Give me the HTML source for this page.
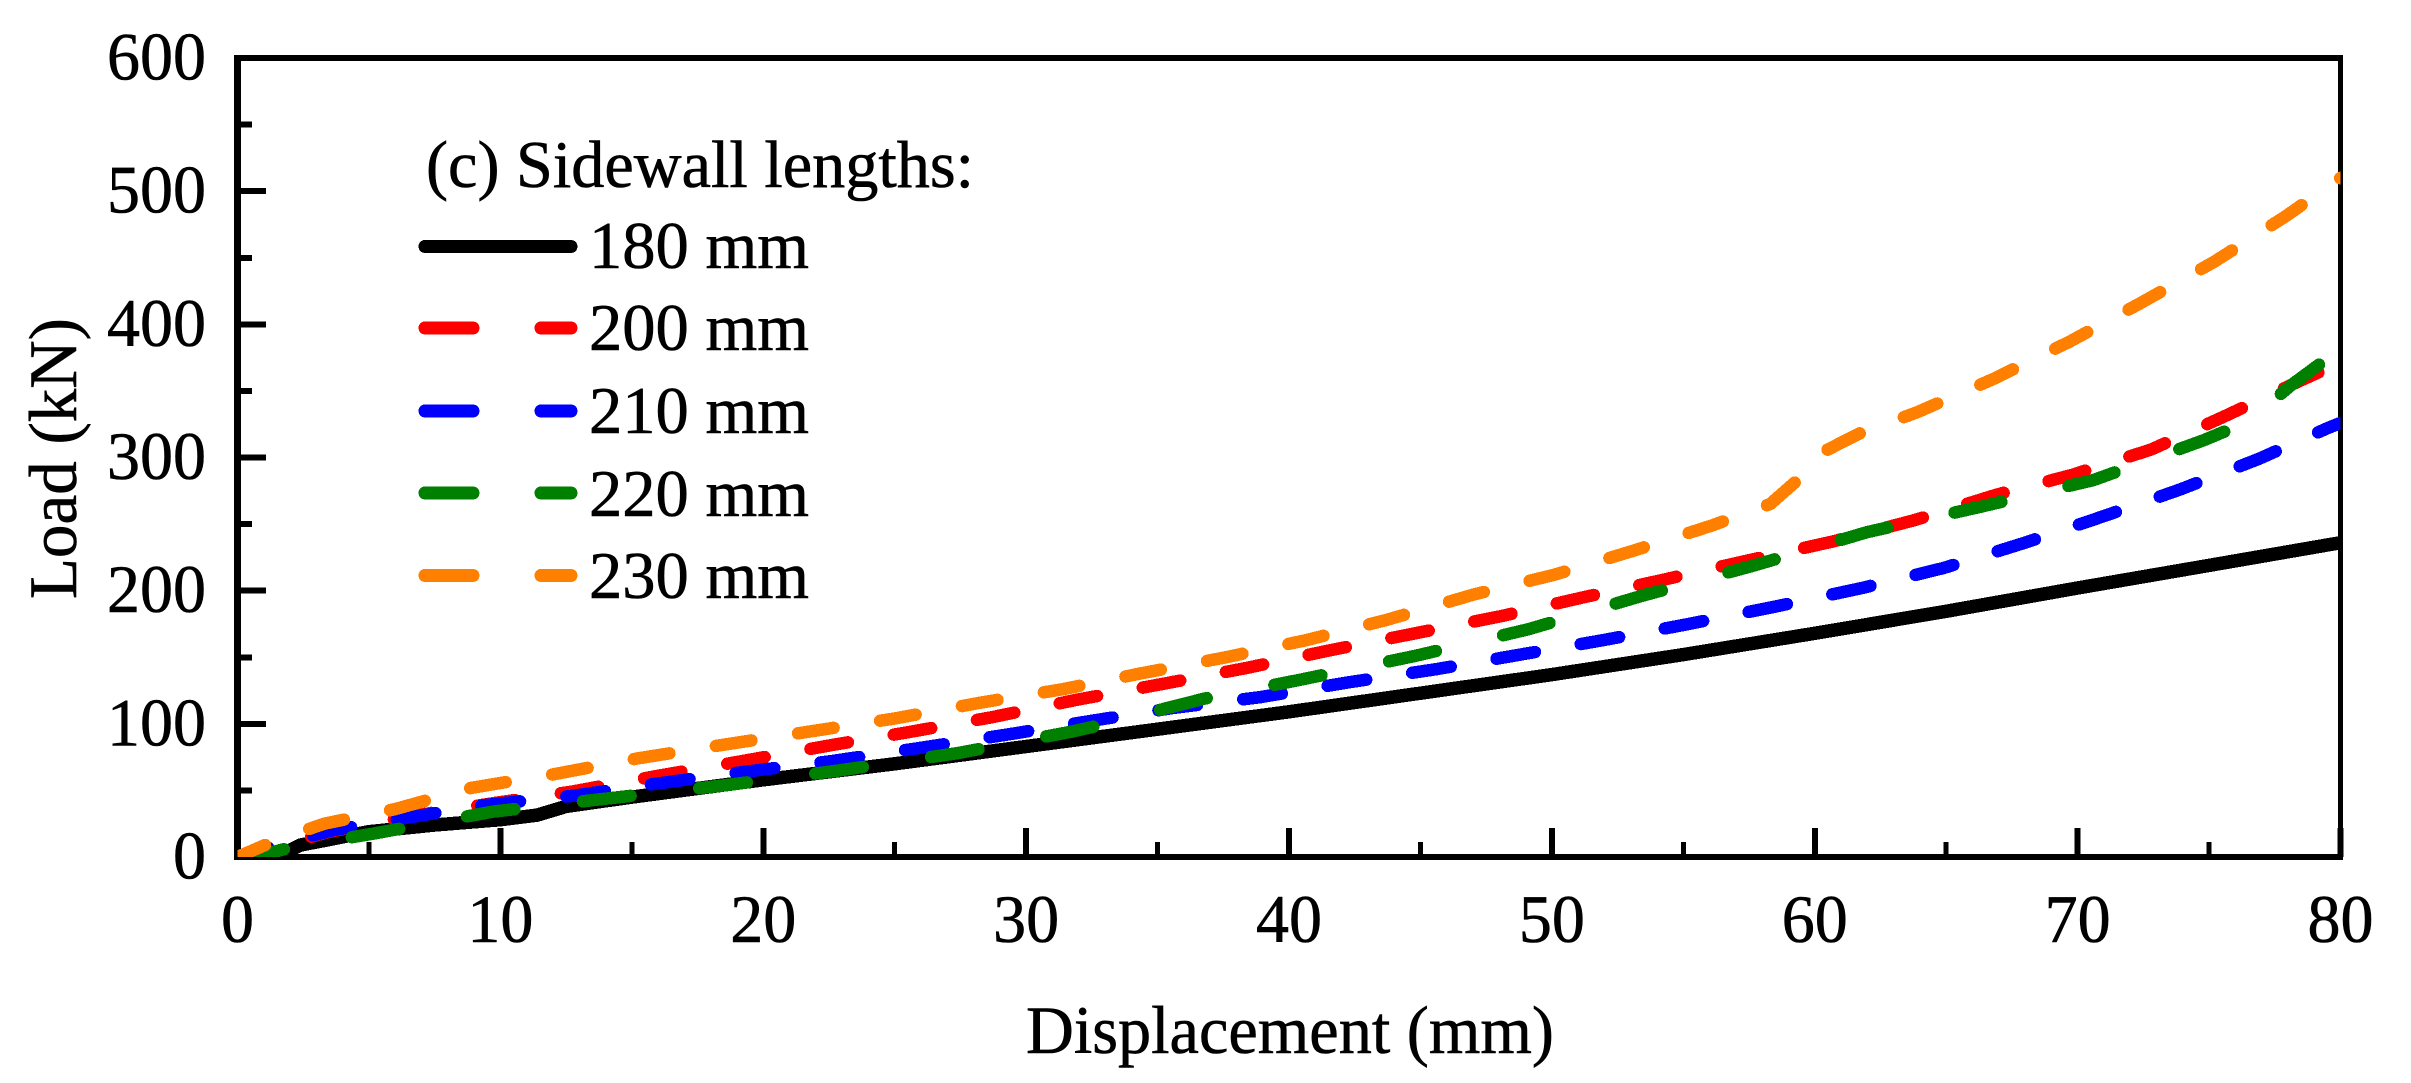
<!DOCTYPE html>
<html lang="en">
<head>
<meta charset="utf-8">
<title>Load vs displacement for sidewall lengths</title>
<style>
html,body{margin:0;padding:0;background:#fff;}
svg{display:block;}
text{font-family:"Liberation Serif","Times New Roman",serif;fill:#000;stroke:#000;stroke-width:0.6px;}
line,polyline{shape-rendering:crispEdges;}
</style>
</head>
<body>
<svg id="chart" xmlns="http://www.w3.org/2000/svg" width="2411" height="1083" viewBox="0 0 2411 1083">
  <defs>
    <clipPath id="plot-clip"><rect x="237.5" y="58" width="2103" height="799"></rect></clipPath>
  </defs>
  <rect x="0" y="0" width="2411" height="1083" fill="#fff"></rect>
  <g id="axes"></g>
  <g id="series" clip-path="url(#plot-clip)" fill="none"></g>
  <text x="1026" y="1053" font-size="68" textLength="528" lengthAdjust="spacingAndGlyphs">Displacement (mm)</text>
  <text transform="translate(76,599) rotate(-90)" x="0" y="0" font-size="68" textLength="281" lengthAdjust="spacingAndGlyphs">Load (kN)</text>
  <g id="legend">
    <text x="426" y="187" font-size="67" textLength="548" lengthAdjust="spacingAndGlyphs">(c) Sidewall lengths:</text>
    <line x1="425" x2="571" y1="246.5" y2="246.5" stroke="#000" stroke-width="13" stroke-linecap="round"></line>
    <text x="589" y="268" font-size="67" textLength="220" lengthAdjust="spacingAndGlyphs">180 mm</text>
    <line x1="425" x2="571" y1="328" y2="328" stroke="#ff0000" stroke-width="13" stroke-linecap="round" stroke-dasharray="48 68"></line>
    <text x="589" y="350" font-size="67" textLength="220" lengthAdjust="spacingAndGlyphs">200 mm</text>
    <line x1="425" x2="571" y1="411" y2="411" stroke="#0000ff" stroke-width="13" stroke-linecap="round" stroke-dasharray="48 68"></line>
    <text x="589" y="433" font-size="67" textLength="220" lengthAdjust="spacingAndGlyphs">210 mm</text>
    <line x1="425" x2="571" y1="493" y2="493" stroke="#008000" stroke-width="13" stroke-linecap="round" stroke-dasharray="48 68"></line>
    <text x="589" y="516" font-size="67" textLength="220" lengthAdjust="spacingAndGlyphs">220 mm</text>
    <line x1="425" x2="571" y1="575.5" y2="575.5" stroke="#ff8000" stroke-width="13" stroke-linecap="round" stroke-dasharray="48 68"></line>
    <text x="589" y="598" font-size="67" textLength="220" lengthAdjust="spacingAndGlyphs">230 mm</text>
  </g>
</svg>
<script>
const xMajorTicks = [0, 10, 20, 30, 40, 50, 60, 70, 80];
const xMinorTicks = [5, 15, 25, 35, 45, 55, 65, 75];
const yMajorTicks = [0, 100, 200, 300, 400, 500, 600];
const yMinorTicks = [50, 150, 250, 350, 450, 550];

const disp180 = [0, 1, 1.8, 2.4, 3.2, 5, 7.5, 10, 11.4, 12.5, 15, 20, 25, 30, 35, 40, 45, 50, 55, 60, 65, 70, 75, 80];
const load180 = [0, 1, 3, 9, 12, 19, 24, 28, 31.5, 38, 45, 58, 70, 83, 96, 109, 123, 137, 152, 168, 184.5, 202, 219, 236];

const disp200 = [0, 1.5, 3.5, 6.4, 9.6, 12.7, 16, 19.2, 22.6, 25.6, 28.7, 31.9, 35.2, 38.4, 41.5, 44.8, 48.1, 51.2, 54.2, 57.3, 60.7, 63.8, 66.9, 69.8, 72.8, 75.6, 78.5, 79.4];
const load200 = [0, 8, 19, 30, 40, 49, 61, 72, 84, 94, 105, 118, 130, 142, 155, 168, 181, 195, 208, 222, 237, 253, 272, 287, 306, 331, 358, 366];

const disp210 = [0, 1.5, 3.6, 6.3, 9.4, 12.8, 15.9, 19.3, 22.6, 26, 29.3, 32.4, 35.6, 38.9, 42.2, 45.6, 48.8, 52, 55.2, 58.5, 61.8, 64.9, 68, 71, 73.9, 76.9, 79.5, 80];
const load210 = [0, 9, 20, 29, 39, 46, 55, 64, 72, 82, 92, 102, 112, 120, 131, 141, 152, 163, 175, 188, 202, 217, 236, 256, 276, 299, 322, 326];

const disp220 = [0, 1, 1.4, 2, 5.3, 9.7, 14.1, 18.6, 22.9, 27.4, 31.7, 33.5, 35, 36.8, 40.4, 44.8, 49.1, 53.4, 57.7, 62, 66.3, 70.6, 74.8, 76.5, 78.1, 79.2];
const load220 = [0, 0, 4, 7, 18, 34, 44, 54, 65, 78, 94, 102, 110, 119, 133, 151, 171, 196, 219, 244, 263, 283, 313, 327, 354, 370];

const disp230 = [0, 1.4, 3.3, 6, 8.9, 12, 15.2, 18.4, 21.7, 25, 28.3, 31.4, 34.4, 37.6, 40.7, 43.7, 47, 50.1, 53.1, 56.1, 58.3, 59.4, 60.2, 61.7, 63.9, 66.8, 69.7, 72.4, 75.2, 77.9, 80];
const load230 = [0, 12, 25, 36, 52, 62, 74, 84, 94, 104, 116, 126, 138, 150, 163, 178, 197, 212, 230, 249, 265, 284, 303, 318, 334, 359, 387, 416, 447, 481, 510];

function xScale(v) { return 237.5 + (v / 80) * 2103; }
function yScale(v) { return 857 - (v / 600) * 799; }

const NS = 'http://www.w3.org/2000/svg';
const axes = document.getElementById('axes');
const seriesGroup = document.getElementById('series');

function mkLine(x1, y1, x2, y2, w) {
  const l = document.createElementNS(NS, 'line');
  l.setAttribute('x1', x1); l.setAttribute('y1', y1);
  l.setAttribute('x2', x2); l.setAttribute('y2', y2);
  l.setAttribute('stroke', '#000');
  l.setAttribute('stroke-width', w);
  return l;
}

// Frame
const frameTop = mkLine(234, 58, 2343, 58, 6);


axes.appendChild(frameTop);
const frameRight = mkLine(2340.7, 55, 2340.7, 860, 5);


axes.appendChild(frameRight);
const frameLeft = mkLine(237.5, 55, 237.5, 860, 7);


axes.appendChild(frameLeft);
const frameBottom = mkLine(234, 857, 2343, 857, 6);


axes.appendChild(frameBottom);

// X ticks and labels
xMajorTicks.forEach(function (v) {
  const t = mkLine(xScale(v), 857, xScale(v), 828, 6);
  
  
  axes.appendChild(t);
  const label = document.createElementNS(NS, 'text');
  label.setAttribute('x', xScale(v));
  label.setAttribute('y', 942);
  label.setAttribute('font-size', '68');
  label.setAttribute('text-anchor', 'middle');
  label.setAttribute('textLength', String(v).length * 33);
  label.setAttribute('lengthAdjust', 'spacingAndGlyphs');
  label.textContent = String(v);
  
  
  axes.appendChild(label);
});
xMinorTicks.forEach(function (v) {
  const t = mkLine(xScale(v), 857, xScale(v), 842, 5);
  
  
  axes.appendChild(t);
});

// Y ticks and labels
yMajorTicks.forEach(function (v) {
  if (v !== 0 && v !== 600) {
    const t = mkLine(237.5, yScale(v), 266, yScale(v), 6);
    
    
    axes.appendChild(t);
  }
  const label = document.createElementNS(NS, 'text');
  label.setAttribute('x', 206);
  label.setAttribute('y', yScale(v) + 21.5);
  label.setAttribute('font-size', '68');
  label.setAttribute('text-anchor', 'end');
  label.setAttribute('textLength', String(v).length * 33);
  label.setAttribute('lengthAdjust', 'spacingAndGlyphs');
  label.textContent = String(v);
  
  
  axes.appendChild(label);
});
yMinorTicks.forEach(function (v) {
  const t = mkLine(237.5, yScale(v), 252, yScale(v), 6);
  
  
  axes.appendChild(t);
});

// Series
function drawSeries(xs, ys, colour, width, dash, offset) {
  const p = document.createElementNS(NS, 'polyline');
  p.setAttribute('points', xs.map(function (v, i) {
    return xScale(v).toFixed(1) + ',' + yScale(ys[i]).toFixed(1);
  }).join(' '));
  p.setAttribute('stroke', colour);
  p.setAttribute('stroke-width', width);
  p.setAttribute('stroke-linecap', 'round');
  p.setAttribute('stroke-linejoin', 'round');
  if (dash) {
    p.setAttribute('stroke-dasharray', dash);
    p.setAttribute('stroke-dashoffset', offset);
  }
  seriesGroup.appendChild(p);
  return p;
}

const line180 = drawSeries(disp180, load180, '#000000', 13.5, null, 0);


const line200 = drawSeries(disp200, load200, '#ff0000', 12.5, '38 46.5', 8);


const line210 = drawSeries(disp210, load210, '#0000ff', 12.5, '39 46.5', 7);


const line220 = drawSeries(disp220, load220, '#008000', 12.5, '48 69', 0);


const line230 = drawSeries(disp230, load230, '#ff8000', 12.5, '36 47.1', 6);


</script>
</body>
</html>
